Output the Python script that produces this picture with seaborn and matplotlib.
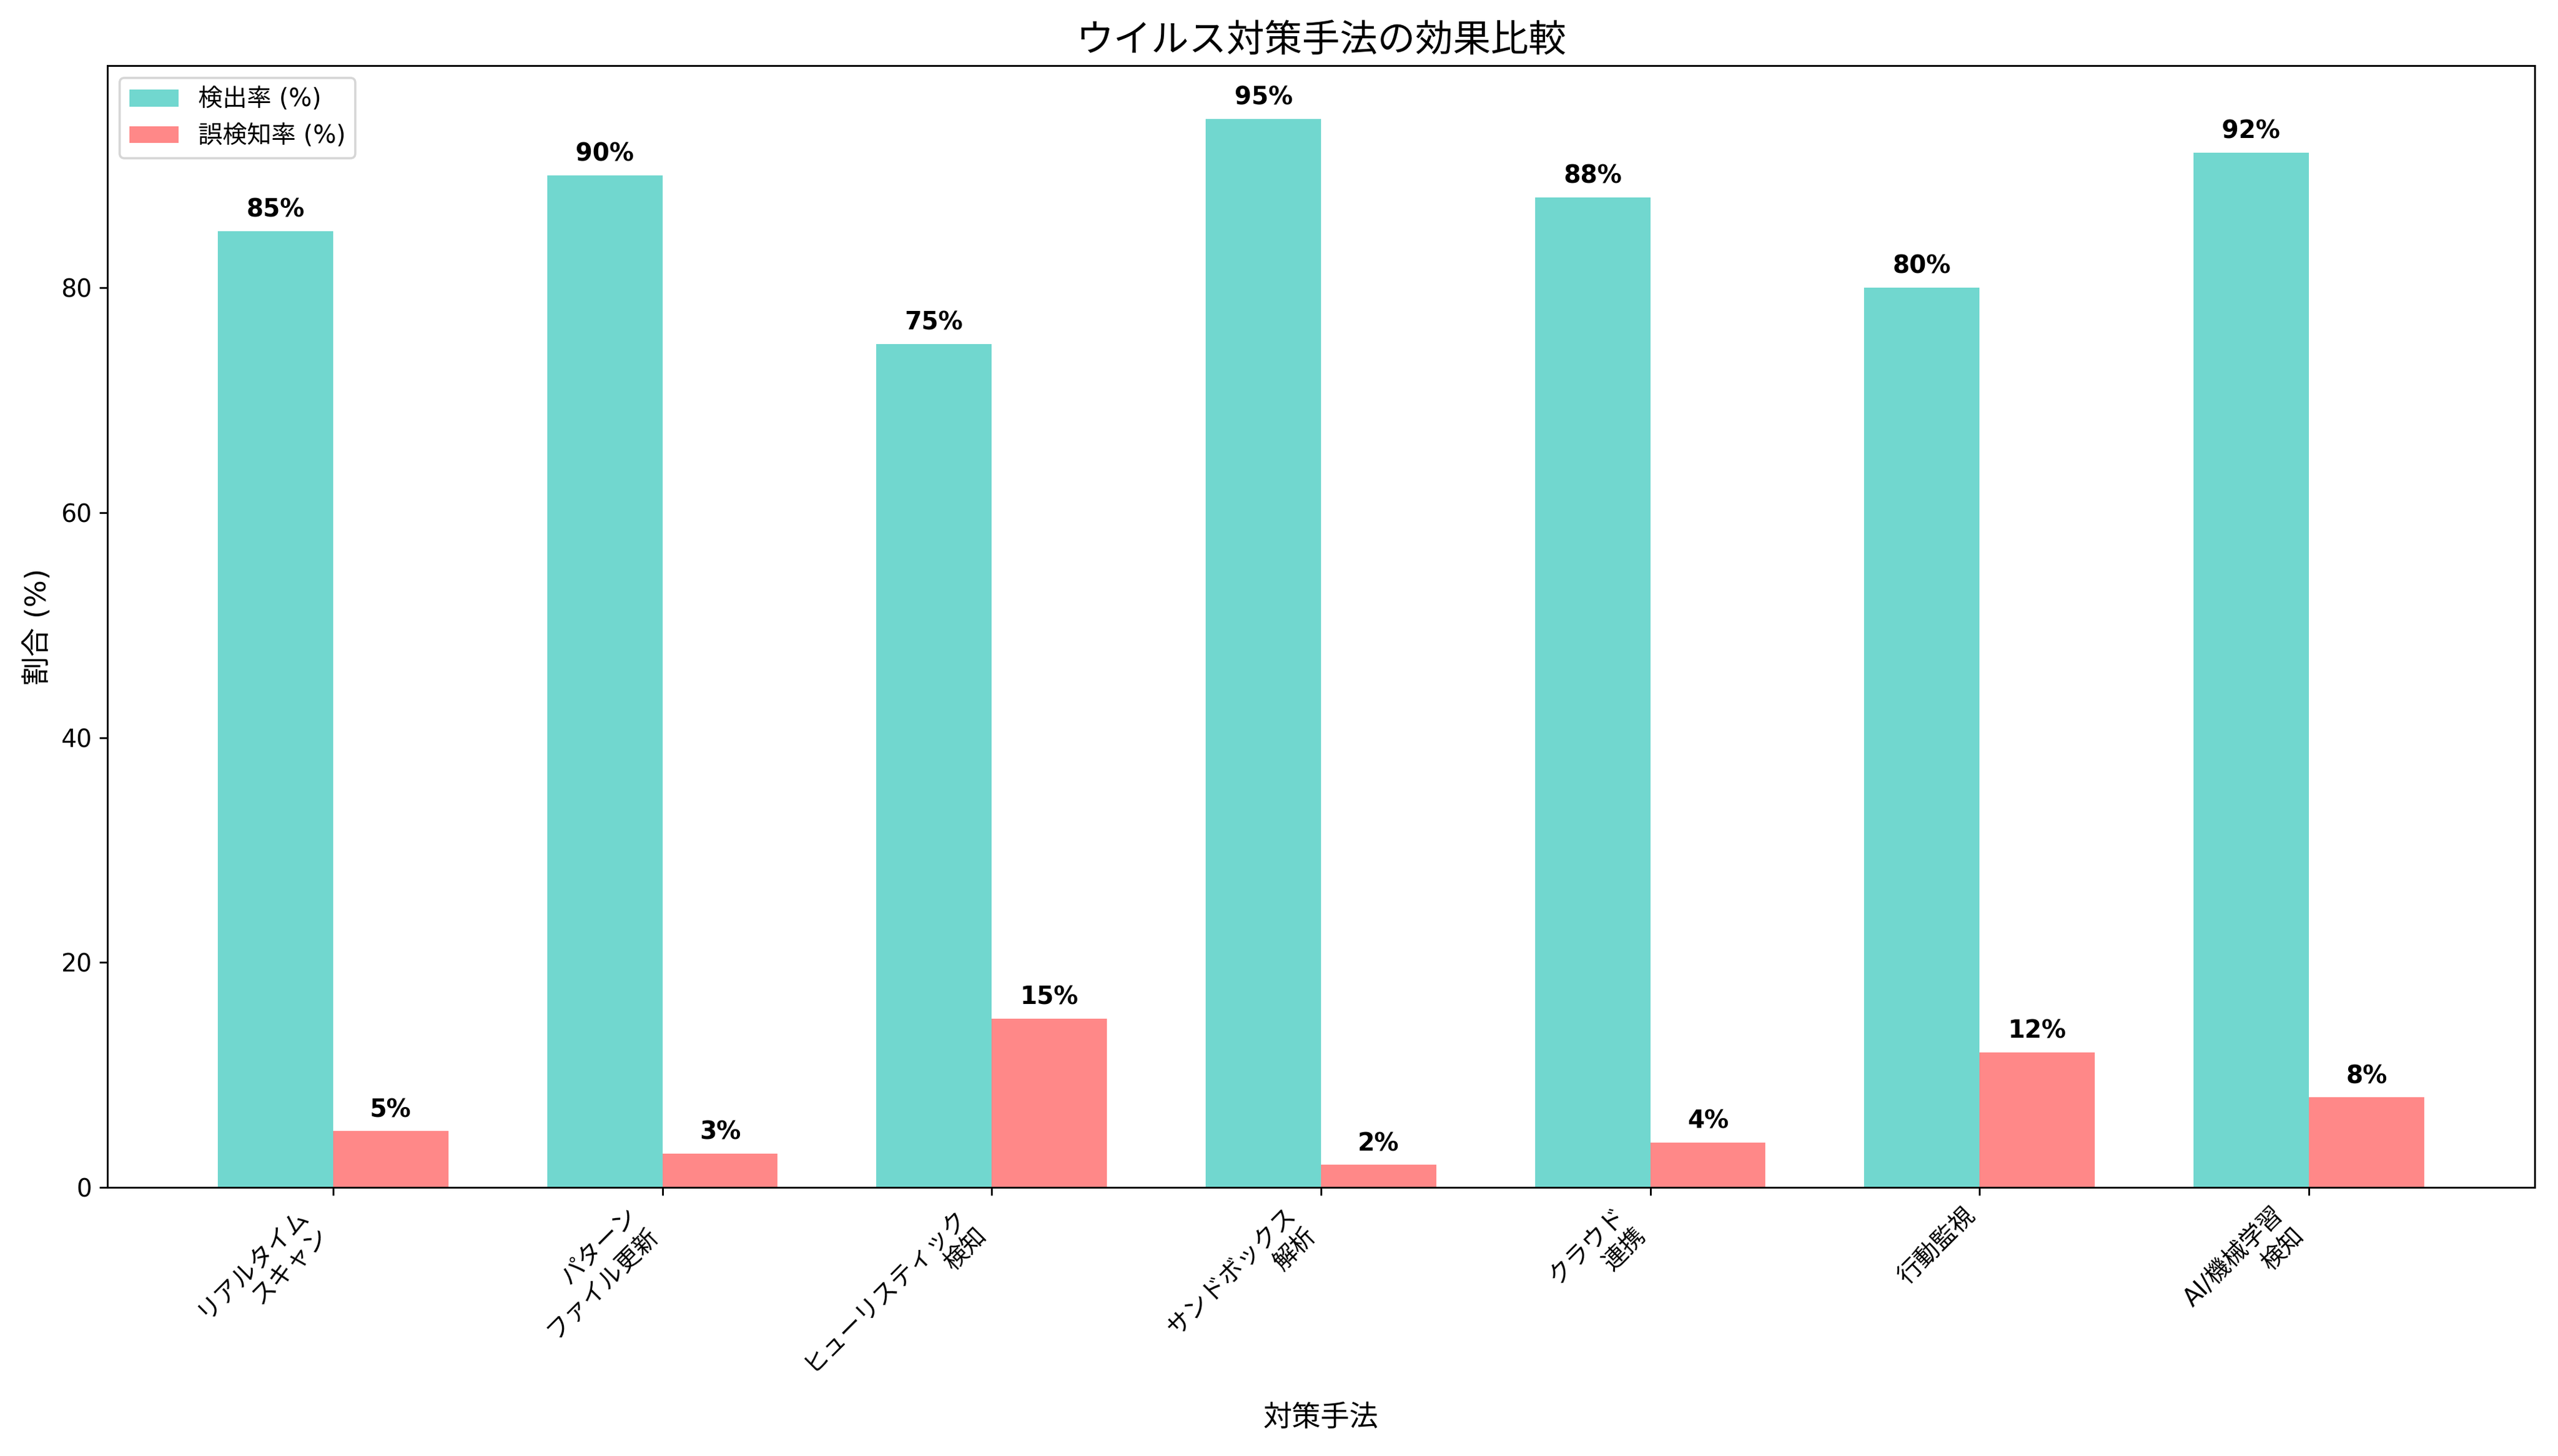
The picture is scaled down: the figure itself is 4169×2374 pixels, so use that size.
import pandas as pd
import matplotlib
matplotlib.use('Agg')
import matplotlib.pyplot as plt
import seaborn as sns

plt.rcParams['font.family'] = ['DejaVu Sans', 'Noto Sans CJK JP']

# data
methods = ['リアルタイム\nスキャン', 'パターン\nファイル更新', 'ヒューリスティック\n検知', 'サンドボックス\n解析',
           'クラウド\n連携', '行動監視', 'AI/機械学習\n検知']
detection = [85, 90, 75, 95, 88, 80, 92]
false_pos = [5, 3, 15, 2, 4, 12, 8]
series = ['検出率 (%)', '誤検知率 (%)']

df = pd.DataFrame({
    'method': methods * 2,
    'value': detection + false_pos,
    'series': [series[0]] * len(methods) + [series[1]] * len(methods),
})

fig, ax = plt.subplots(figsize=(16, 9.11), dpi=260.6)
sns.barplot(data=df, x='method', y='value', hue='series', palette=['#4ECDC4', '#FF6B6B'],
            width=0.7, gap=0, alpha=0.8, ax=ax, saturation=1)

for cont in ax.containers:
    labels = [f'{int(b.get_height())}%' for b in cont]
    ax.bar_label(cont, labels=labels, padding=4, fontsize=11, fontweight='bold')

ax.set_title('ウイルス対策手法の効果比較', fontsize=17)
ax.set_xlabel('対策手法', fontsize=13)
ax.set_ylabel('割合 (%)', fontsize=13)
plt.setp(ax.get_xticklabels(), rotation=45, ha='right', fontsize=11)
plt.setp(ax.get_yticklabels(), fontsize=11)
ax.legend(loc='upper left', fontsize=11)
ax.set_xlim(-0.685, 6.685)
ax.set_ylim(0, 99.75)

plt.tight_layout()
plt.savefig('out.png')
plt.close()
